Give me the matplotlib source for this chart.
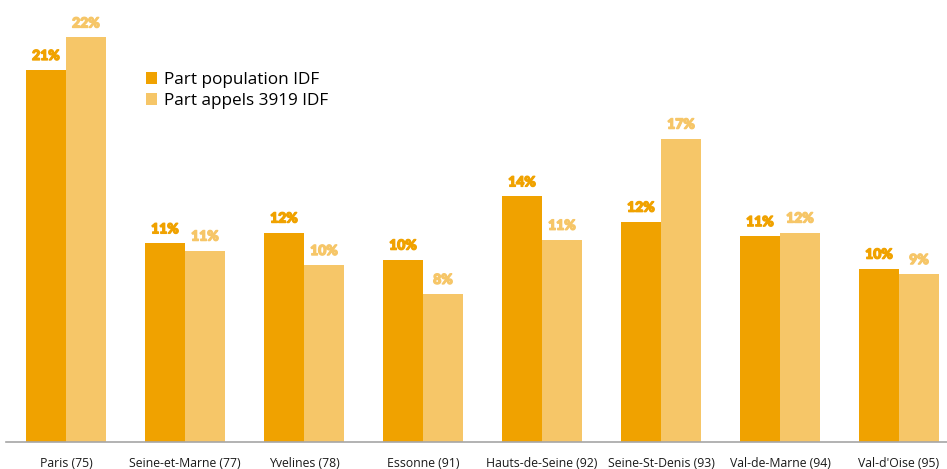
import matplotlib.pyplot as plt
import matplotlib.patheffects as pe
import numpy as np

departements = ['Paris (75)', 'Seine-et-Marne (77)', 'Yvelines (78)', 'Essonne (91)',
                'Hauts-de-Seine (92)', 'Seine-St-Denis (93)', 'Val-de-Marne (94)', "Val-d'Oise (95)"]
part_population = [20.6, 11.0, 11.6, 10.1, 13.6, 12.2, 11.4, 9.6]
part_appels = [22.4, 10.6, 9.8, 8.2, 11.2, 16.8, 11.6, 9.3]

c_pop = '#F0A200'
c_app = '#F6C668'

fig = plt.figure(figsize=(9.47, 4.69), dpi=100)
ax = fig.add_axes([6/947, 27/469, 941/947, 442/469])

x = np.arange(len(departements))
w = 40/119
b1 = ax.bar(x - w/2, part_population, w, color=c_pop, label='Part population IDF')
b2 = ax.bar(x + w/2, part_appels, w, color=c_app, label='Part appels 3919 IDF')

# valeurs au-dessus des barres
for bars, vals, col in [(b1, part_population, c_pop), (b2, part_appels, c_app)]:
    for r, v in zip(bars, vals):
        ax.annotate(f'{v:.0f}%', (r.get_x() + r.get_width()/2, v),
                    xytext=(0, 8), textcoords='offset pixels',
                    ha='center', va='bottom', color=col,
                    fontfamily=['Lato', 'DejaVu Sans'], fontweight='black', fontsize=10,
                    path_effects=[pe.withStroke(linewidth=1.0, foreground=col)])

ax.set_xlim(-60/119, 881/119)
ax.set_ylim(0, 442/18.06)
ax.set_xticks(x)
ax.set_xticklabels(departements, fontfamily=['Open Sans', 'DejaVu Sans'], fontsize=8.8, color='#1a1a1a')
ax.tick_params(axis='x', length=0, pad=11)
ax.set_yticks([])
for s in ['top', 'right', 'left']:
    ax.spines[s].set_visible(False)
ax.spines['bottom'].set_color('#a6a6a6')
ax.spines['bottom'].set_linewidth(1.2)

ax.legend(loc='upper left', bbox_to_anchor=(125/947, 1 - 60/469), frameon=False,
          prop={'family': ['Open Sans', 'DejaVu Sans'], 'size': 12.3},
          handlelength=0.65, handleheight=0.65, handletextpad=0.45, labelspacing=0.3)

fig.savefig('out.png', dpi=100)
